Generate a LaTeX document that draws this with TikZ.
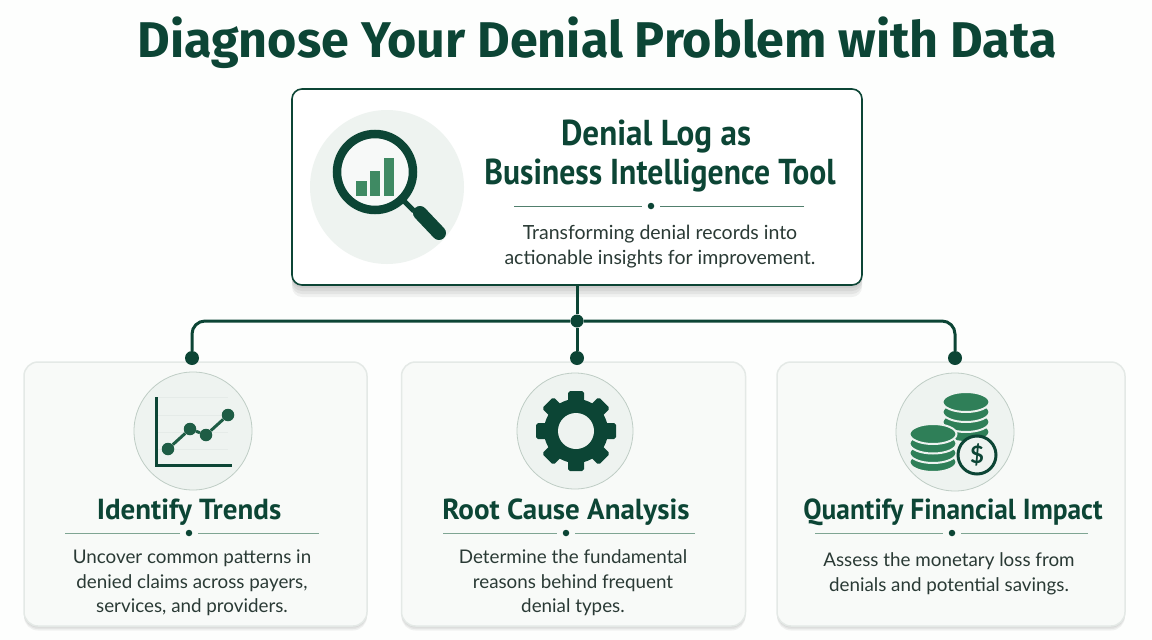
\documentclass[tikz,border=0pt]{standalone}
\usepackage{fontspec}
\setmainfont{Lato}
\newfontfamily\headfont{PT Sans}
\newfontfamily\titlefont{Fira Sans}
\usetikzlibrary{positioning,shadows}

\definecolor{pine}{HTML}{0C4535}
\definecolor{leaf}{HTML}{3F8A63}
\definecolor{coingreen}{HTML}{2F7F58}
\definecolor{rulegreen}{HTML}{7FA593}
\definecolor{bodyink}{HTML}{2A3A35}
\definecolor{cardfill}{HTML}{F8FAF8}
\definecolor{cardline}{HTML}{E4E9E6}
\definecolor{iconfill}{HTML}{EEF3F0}
\definecolor{iconline}{HTML}{BFCDC5}
\definecolor{pagefill}{HTML}{FDFEFD}

\tikzset{
	softdrop/.style={drop shadow={shadow xshift=0pt,shadow yshift=-#1,opacity=.05,fill=black}},
	mainbox/.style={draw=pine,line width=1.6pt,fill=white,rounded corners=10pt,minimum width=570pt,minimum height=196pt,softdrop=3pt,softdrop=6pt,softdrop=9pt,softdrop=12pt},
	cardbox/.style={draw=cardline,line width=1.5pt,fill=cardfill,rounded corners=14pt,minimum height=264pt,softdrop=1.5pt,softdrop=3pt,softdrop=4.5pt},
	iconbadge/.style={circle,draw=iconline,line width=.8pt,fill=iconfill,inner sep=0pt},
	link/.style={draw=pine,line width=3pt},
	joint/.style={circle,fill=pine,inner sep=0pt,minimum size=14pt},
	ruledot/.style={circle,fill=pine,inner sep=0pt,minimum size=6.5pt},
	rulepart/.style={draw=rulegreen,line width=1pt,shorten >=6pt},
	headtext/.style={text=pine,font=\headfont\bfseries\fontsize{29}{34}\selectfont,inner sep=0pt},
	bighead/.style={text=pine,font=\headfont\bfseries\fontsize{36}{39}\selectfont,inner sep=0pt},
	bodytext/.style={text=bodyink,align=center,font=\fontsize{18.8}{24.5}\selectfont,inner sep=0pt},
	coin/.style={fill=coingreen,draw=iconfill,line width=2pt},
}

\begin{document}
\begin{tikzpicture}[x=1pt,y=-1pt]
	\path[use as bounding box,fill=pagefill] (0,0) rectangle (1152,640);

	% The title and the main box
	\node[text=pine,font=\titlefont\bfseries\fontsize{50.2}{60}\selectfont,inner sep=0pt] (title) at (597,43) {Diagnose Your Denial Problem with Data};
	\node[mainbox] (main) at (577,187) {};
	\node[iconbadge,draw=none,minimum size=154pt] (lensbadge) at (387,187) {};
	\node[bighead] (maintitle) at (656,137) {\scalebox{.92}[1]{Denial Log as}};
	\node[bighead] (mainsub) at (660,176) {\scalebox{.88}[1]{Business Intelligence Tool}};
	\node[ruledot] (mainrule) at (651,206) {};
	\coordinate (mainruleL) at (514,206);
	\coordinate (mainruleR) at (804,206);
	\draw[rulepart,draw=rulegreen!60!pine] (mainruleL) -- (mainrule);
	\draw[rulepart,draw=rulegreen!60!pine] (mainruleR) -- (mainrule);
	\node[bodytext,font=\fontsize{19.5}{25}\selectfont] (maintext) at (660,247) {Transforming denial records into\\actionable insights for improvement.};

	% The magnifying glass
	\fill[iconfill!50!white] (375,172) circle[radius=35pt];
	\fill[leaf] (356,181) rectangle (367,196);
	\fill[leaf] (370,171) rectangle (380,196);
	\fill[leaf] (384,158) rectangle (394,196);
	\draw[pine,line width=8.5pt] (375,172) circle[radius=38pt];
	\draw[pine,line width=5pt] (403,200) -- (414,211);
	\draw[pine,line width=14pt,line cap=round] (420,213) -- (439,233);

	% The three cards
	\node[cardbox,minimum width=343pt] (cardleft) at (195.5,494) {};
	\node[cardbox,minimum width=344pt,right=33pt of cardleft] (cardmid) {};
	\node[cardbox,minimum width=348pt,right=30pt of cardmid] (cardright) {};

	% The connectors
	\node[joint,minimum size=13pt] (hub) at (577,321) {};
	\node[joint] (dotmid) at (577,358) {};
	\node[joint] (dotleft) at (192,358) {};
	\node[joint] (dotright) at (955,358) {};
	\draw[link] (main) -- (hub);
	\draw[link] (hub) -- (dotmid);
	\draw[link,rounded corners=13pt] (hub) -| (dotleft);
	\draw[link,rounded corners=13pt] (hub) -| (dotright);

	% Identify Trends
	\node[iconbadge,minimum size=118pt] (trendbadge) at (193,431) {};
	\foreach \y in {397,415,432,449}
		\draw[iconline!40,line width=.6pt] (158,\y) -- (228,\y);
	\draw[pine,line width=3pt] (156,397) -- (156,465) -- (232,465);
	\node[circle,fill=leaf!35!pine,inner sep=0pt,minimum size=12.5pt] (pa) at (168,449) {};
	\node[circle,fill=leaf!35!pine,inner sep=0pt,minimum size=12.5pt] (pb) at (190,429) {};
	\node[circle,fill=leaf!35!pine,inner sep=0pt,minimum size=12.5pt] (pc) at (206,435) {};
	\node[circle,fill=leaf!35!pine,inner sep=0pt,minimum size=12.5pt] (pd) at (228,415) {};
	\draw[leaf!35!pine,line width=3pt] (pa) -- (pb) -- (pc) -- (pd);
	\node[headtext] (lefthead) at (189,512) {Identify Trends};
	\node[ruledot] (leftrule) at (189,533) {};
	\coordinate (leftruleL) at (65,533);
	\coordinate (leftruleR) at (319,533);
	\draw[rulepart] (leftruleL) -- (leftrule);
	\draw[rulepart] (leftruleR) -- (leftrule);
	\node[bodytext] (lefttext) at (192,583) {Uncover common patterns in\\denied claims across payers,\\services, and providers.};

	% Root Cause Analysis
	\node[iconbadge,minimum size=116pt] (gearbadge) at (575,431) {};
	\foreach \a in {0,45,...,315}
		\fill[pine,rotate around={\a:(576,431)}] (568,431) -- (568,393) -- (570,391) -- (582,391) -- (584,393) -- (584,431) -- cycle;
	\fill[pine] (576,431) circle[radius=32pt];
	\fill[iconfill] (576,431) circle[radius=18pt];
	\node[headtext] (midhead) at (566,512) {Root Cause Analysis};
	\node[ruledot] (midrule) at (566,533) {};
	\coordinate (midruleL) at (443,533);
	\coordinate (midruleR) at (695,533);
	\draw[rulepart] (midruleL) -- (midrule);
	\draw[rulepart] (midruleR) -- (midrule);
	\node[bodytext] (midtext) at (573,583) {Determine the fundamental\\reasons behind frequent\\denial types.};

	% Quantify Financial Impact
	\node[iconbadge,minimum size=118pt] (coinbadge) at (955,432) {};
	\foreach \y in {432,422,412,402}
		\path[coin] (966,\y) circle[x radius=23.5pt,y radius=10pt];
	\foreach \y in {462,453,443.5,434}
		\path[coin] (933,\y) circle[x radius=23.5pt,y radius=10pt];
	\draw[pine,fill=iconfill,line width=3pt] (977,455) circle[radius=19pt];
	\node[text=pine,font=\bfseries\fontsize{24}{24}\selectfont,inner sep=0pt] (dollar) at (977,455) {\$};
	\node[headtext] (righthead) at (953,512) {\scalebox{.945}[1]{Quantify Financial Impact}};
	\node[ruledot] (rightrule) at (952,533) {};
	\coordinate (rightruleL) at (815,533);
	\coordinate (rightruleR) at (1088,533);
	\draw[rulepart] (rightruleL) -- (rightrule);
	\draw[rulepart] (rightruleR) -- (rightrule);
	\node[bodytext] (righttext) at (949,574) {Assess the monetary loss from\\denials and potential savings.};
\end{tikzpicture}
\end{document}
